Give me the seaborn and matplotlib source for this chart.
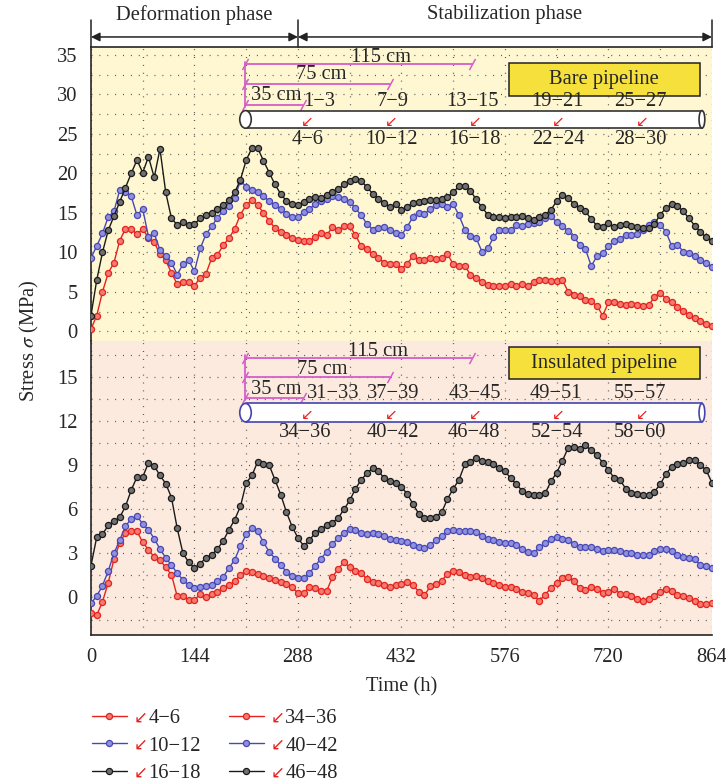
import numpy as np
import matplotlib
matplotlib.use("Agg")
import matplotlib.pyplot as plt
from matplotlib.patches import Rectangle, Ellipse
from matplotlib.ticker import MultipleLocator
import seaborn as sns

# time axis (h), one reading every 8 h
hours = np.arange(0, 865, 8)

# bare pipeline
bare_4_6 = [0.3, 2.0, 5.0, 7.4, 8.7, 11.5, 13.0, 13.0, 12.3, 13.0, 11.8, 11.3,
            9.8, 9.0, 7.4, 6.0, 6.2, 6.3, 5.8, 6.8, 7.3, 9.3, 9.7, 10.9,
            11.8, 13.0, 14.8, 16.0, 16.6, 16.0, 15.0, 14.0, 13.1, 12.6, 12.2, 11.85,
            11.6, 11.4, 11.5, 11.9, 12.4, 12.2, 13.2, 12.9, 13.3, 13.3, 12.2, 10.8,
            10.4, 9.8, 9.3, 8.7, 8.5, 8.5, 7.9, 8.6, 9.5, 9.1, 9.1, 9.3,
            9.2, 9.3, 9.8, 8.5, 8.3, 8.3, 7.2, 6.8, 6.3, 5.9, 5.8, 5.8,
            5.75, 6.0, 5.7, 6.0, 5.8, 6.3, 6.5, 6.5, 6.4, 6.4, 6.5, 5.0,
            4.6, 4.5, 4.0, 3.8, 3.25, 2.0, 3.7, 3.7, 3.5, 3.3, 3.5, 3.3,
            3.25, 3.3, 4.4, 4.9, 4.1, 3.7, 3.1, 2.6, 2.1, 1.7, 1.3, 1.0,
            0.7]
bare_10_12 = [9.3, 10.8, 12.4, 14.5, 15.2, 17.9, 17.7, 17.1, 14.7, 15.5, 12.0, 12.4,
              10.3, 9.6, 8.7, 7.2, 8.5, 9.0, 7.6, 10.5, 12.3, 13.3, 14.4, 15.3,
              15.9, 16.9, 19.1, 18.3, 17.9, 17.6, 17.1, 16.5, 16.0, 15.5, 14.9, 14.5,
              14.5, 15.1, 15.5, 16.1, 16.5, 16.8, 17.1, 17.0, 16.7, 16.4, 15.6, 14.7,
              13.6, 12.9, 13.1, 13.2, 12.8, 12.4, 12.2, 13.25, 14.5, 15.0, 14.9, 15.5,
              16.0, 16.1, 15.8, 16.1, 14.7, 12.9, 12.1, 11.8, 10.1, 10.5, 11.9, 12.8,
              12.8, 12.9, 13.5, 13.3, 13.6, 13.7, 13.9, 14.4, 14.6, 13.8, 13.3, 12.7,
              11.9, 11.0, 10.4, 8.3, 9.5, 9.9, 10.8, 11.4, 11.7, 12.2, 12.2, 12.3,
              12.8, 13.5, 13.9, 13.5, 12.6, 10.8, 11.0, 10.1, 9.9, 9.6, 9.0, 8.7,
              8.2]
bare_16_18 = [2.0, 6.5, 10.0, 12.8, 14.6, 16.4, 18.2, 20.0, 21.7, 20.1, 22.1, 19.5,
              23.1, 17.6, 14.3, 13.5, 13.8, 13.5, 13.6, 14.3, 14.7, 15.0, 15.5, 16.0,
              16.6, 17.6, 19.2, 21.7, 23.2, 23.2, 21.6, 20.1, 18.6, 17.4, 16.5, 16.1,
              16.0, 16.4, 16.7, 17.0, 16.9, 17.3, 17.7, 18.0, 18.6, 19.0, 19.3, 19.0,
              18.3, 17.4, 16.8, 16.3, 15.7, 16.1, 15.4, 15.8, 16.25, 16.4, 16.5, 16.6,
              16.6, 16.7, 17.0, 17.6, 18.4, 18.4, 17.8, 16.7, 15.7, 14.8, 14.5, 14.5,
              14.3, 14.5, 14.5, 14.6, 14.4, 14.1, 14.5, 14.8, 15.4, 16.5, 17.3, 16.9,
              16.1, 15.6, 15.2, 14.2, 13.4, 13.2, 13.7, 13.2, 13.5, 13.6, 13.3, 13.2,
              13.1, 13.05, 13.6, 14.8, 15.6, 16.1, 15.9, 15.2, 14.3, 13.4, 12.6, 11.9,
              11.5]

# insulated pipeline
ins_34_36 = [-1.07, -1.2, -0.3, 1.0, 2.6, 3.7, 4.4, 4.55, 4.5, 3.75, 3.25, 2.75,
             2.55, 2.05, 1.55, 0.07, 0.1, -0.16, -0.16, 0.22, 0.0, 0.27, 0.38, 0.64,
             0.83, 1.1, 1.55, 1.8, 1.7, 1.6, 1.43, 1.3, 1.2, 1.05, 0.9, 0.68,
             0.3, 0.3, 0.7, 0.65, 0.42, 0.45, 1.4, 1.95, 2.4, 2.05, 1.8, 1.66,
             1.25, 1.07, 0.98, 0.86, 0.73, 0.83, 0.95, 1.05, 0.85, 0.4, 0.16, 0.75,
             0.93, 1.15, 1.6, 1.82, 1.7, 1.5, 1.42, 1.47, 1.3, 1.12, 1.0, 0.82,
             0.73, 0.73, 0.55, 0.4, 0.3, 0.15, -0.25, 0.2, 0.65, 1.0, 1.32, 1.4,
             1.12, 0.62, 0.5, 0.68, 0.55, 0.33, 0.39, 0.58, 0.27, 0.25, 0.12, -0.12,
             -0.22, -0.1, 0.12, 0.39, 0.6, 0.45, 0.2, 0.08, -0.03, -0.27, -0.45, -0.45,
             -0.36]
ins_40_42 = [-0.4, 0.1, 0.8, 1.8, 3.0, 3.9, 4.85, 5.35, 5.55, 5.0, 4.6, 4.0,
             3.3, 2.7, 2.2, 1.65, 1.2, 0.85, 0.64, 0.7, 0.78, 0.84, 1.1, 1.4,
             2.0, 2.57, 3.5, 4.3, 4.75, 4.5, 3.75, 3.1, 2.65, 2.2, 1.75, 1.45,
             1.3, 1.3, 1.66, 2.15, 2.65, 3.1, 3.65, 4.05, 4.4, 4.65, 4.6, 4.4,
             4.3, 4.4, 4.3, 4.2, 4.0, 3.9, 3.86, 3.8, 3.6, 3.4, 3.35, 3.57,
             3.9, 4.15, 4.55, 4.6, 4.55, 4.55, 4.55, 4.45, 4.2, 4.0, 3.9, 3.75,
             3.7, 3.7, 3.55, 3.3, 3.1, 3.05, 3.4, 3.7, 3.95, 4.1, 4.0, 3.9,
             3.65, 3.45, 3.45, 3.45, 3.27, 3.18, 3.2, 3.2, 3.15, 3.05, 3.0, 2.9,
             2.9, 2.9, 3.15, 3.27, 3.27, 3.15, 2.9, 2.75, 2.66, 2.6, 2.2, 2.15,
             1.98]
ins_46_48 = [2.16, 4.1, 4.3, 4.9, 5.2, 5.45, 6.2, 7.3, 8.2, 8.2, 9.16, 8.95,
             8.3, 7.75, 6.8, 4.7, 3.0, 2.4, 2.0, 2.3, 2.7, 2.9, 3.3, 3.85,
             4.6, 5.3, 6.2, 7.8, 8.3, 9.25, 9.05, 9.0, 8.0, 7.0, 5.8, 4.8,
             4.05, 3.5, 3.9, 4.4, 4.65, 4.9, 5.1, 5.4, 6.0, 6.6, 7.4, 8.0,
             8.45, 8.8, 8.6, 8.1, 7.95, 7.8, 7.5, 7.05, 6.35, 5.7, 5.4, 5.4,
             5.5, 5.8, 6.7, 7.4, 8.0, 9.05, 9.25, 9.5, 9.3, 9.25, 9.05, 8.8,
             8.6, 8.1, 7.7, 7.25, 7.05, 7.0, 6.95, 7.1, 7.9, 8.5, 9.3, 10.2,
             10.25, 10.1, 10.35, 10.0, 9.7, 9.15, 8.7, 8.1, 8.0, 7.4, 7.1, 7.05,
             7.0, 7.0, 7.2, 7.7, 8.4, 8.9, 9.1, 9.15, 9.35, 9.35, 9.0, 8.65,
             7.8]

legend_labels = ["4\u22126", "10\u221212", "16\u221218", "34\u221236", "40\u221242", "46\u221248"]
bare_above = ["1\u22123", "7\u22129", "13\u221215", "19\u221221", "25\u221227"]
bare_below = ["4\u22126", "10\u221212", "16\u221218", "22\u221224", "28\u221230"]
ins_above = ["31\u221233", "37\u221239", "43\u221245", "49\u221251", "55\u221257"]
ins_below = ["34\u221236", "40\u221242", "46\u221248", "52\u221254", "58\u221260"]
spans = ["35 cm", "75 cm", "115 cm"]

sns.set_style("white")
plt.rcParams['font.family'] = ['Liberation Serif', 'DejaVu Serif']
plt.rcParams['mathtext.fontset'] = 'stix'
FS = 14.8

# (line colour, marker face)
styles = [("#E3231D", "#F37A70"), ("#4848B4", "#9090DE"), ("#1A1A1A", "#707070")]
ARROW_RED = "#E8231E"
MAGENTA = "#D65EC9"

fig = plt.figure(figsize=(7.26, 7.84), dpi=100)
ax1 = fig.add_axes([0.1253, 0.5651, 0.8554, 0.3750])
ax2 = fig.add_axes([0.1253, 0.1901, 0.8554, 0.3750])

handles = []
for ax, series, ylim, major in [(ax1, [bare_4_6, bare_10_12, bare_16_18], (-1.2, 36.0), 5),
                                (ax2, [ins_34_36, ins_40_42, ins_46_48], (-2.55, 17.45), 3)]:
    for vals, (lc, fc) in zip(series, styles):
        sns.lineplot(x=hours, y=vals, ax=ax, color=lc, linewidth=1.0, marker='o',
                     markersize=4.4, markerfacecolor=fc, markeredgecolor=lc,
                     markeredgewidth=0.9, legend=False, errorbar=None, estimator=None,
                     zorder=3)
        handles.append(ax.lines[-1])
    ax.set_xlim(0, 864)
    ax.set_ylim(*ylim)
    ax.xaxis.set_major_locator(MultipleLocator(144))
    ax.xaxis.set_minor_locator(MultipleLocator(72))
    ax.yaxis.set_major_locator(MultipleLocator(major))
    ax.yaxis.set_minor_locator(MultipleLocator(major / 2))
    ax.grid(which='both', color='#555555', linestyle=(0, (0.8, 5.5)), linewidth=0.9)
    ax.set_axisbelow(True)
    ax.spines['right'].set_visible(False)
    ax.spines['left'].set_linewidth(1.2)
    ax.tick_params(axis='y', which='major', direction='out', length=6, width=1.1, labelsize=FS)
    ax.tick_params(axis='y', which='minor', direction='out', length=3.5, width=1.0)
    ax.set_xlabel("")
    ax.set_ylabel("")

ax1.set_facecolor("#FEF7D2")
ax2.set_facecolor("#FCEADF")
ax1.spines['bottom'].set_visible(False)
ax1.spines['top'].set_linewidth(1.2)
ax1.tick_params(axis='x', which='both', bottom=False, labelbottom=False)
ax2.spines['top'].set_visible(False)
ax2.spines['bottom'].set_linewidth(1.2)
ax2.tick_params(axis='x', which='major', direction='out', length=6, width=1.1, labelsize=FS)
ax2.tick_params(axis='x', which='minor', direction='out', length=3.5, width=1.0)
ax1.set_yticks(np.arange(0, 36, 5))
ax2.set_yticks(np.arange(0, 16, 3))


def slash_marker():
    return [(-0.55, -1.0), (0.55, 1.0)]


def draw_panel_notes(ax, ys, above, below, box_text, edge):
    d35, d75, d115, vtop, vbot = ys['dims']
    x0 = 214
    for yv, x1 in [(d35, 295), (d75, 416), (d115, 530)]:
        ax.plot([x0, x1], [yv, yv], color=MAGENTA, lw=1.3, zorder=6)
        ax.plot([x0, x1], [yv, yv], ls='none', marker=slash_marker(), ms=8,
                mec=MAGENTA, mew=1.1, zorder=6)
    ax.plot([x0, x0], [vbot, vtop], color=MAGENTA, lw=1.3, zorder=6)
    for (tx, ty), s in zip(ys['dimtext'], spans):
        ax.text(tx, ty, s, ha='center', va='center', fontsize=FS, zorder=7)
    p0, p1 = ys['pipe']
    ax.add_patch(Rectangle((215, p0), 850 - 215, p1 - p0, facecolor='white',
                           edgecolor='none', zorder=6))
    ax.plot([215, 850], [p0, p0], color=edge, lw=1.2, zorder=6)
    ax.plot([215, 850], [p1, p1], color=edge, lw=1.2, zorder=6)
    ax.add_patch(Ellipse((215, (p0 + p1) / 2), 16, p1 - p0, facecolor='white',
                         edgecolor=edge, lw=1.2, zorder=7))
    ax.add_patch(Ellipse((850, (p0 + p1) / 2), 8, p1 - p0, facecolor='white',
                         edgecolor=edge, lw=1.2, zorder=7))
    for hx in [301, 418, 534, 650, 767]:
        ax.text(hx, ys['arrow'], "\u2199", color=ARROW_RED, fontsize=11,
                family='DejaVu Sans', ha='center', va='center', zorder=8)
    for hx, s in zip(ys['above_x'], above):
        ax.text(hx, ys['above'], s, ha='center', va='center', fontsize=FS, zorder=7)
    for hx, s in zip(ys['below_x'], below):
        ax.text(hx, ys['below'], s, ha='center', va='center', fontsize=FS, zorder=7)
    b0, b1 = ys['box']
    ax.add_patch(Rectangle((581.5, b0), 847 - 581.5, b1 - b0, facecolor='#F6E13C',
                           edgecolor='#222222', lw=1.1, zorder=6))
    ax.text(714, (b0 + b1) / 2, box_text, ha='center', va='center', fontsize=FS, zorder=7)


draw_panel_notes(ax1, dict(dims=(28.7, 31.3, 33.8, 34.1, 28.4),
                           dimtext=[(258, 29.9), (320, 32.5), (404, 34.65)],
                           pipe=(25.72, 27.95), arrow=26.6,
                           above=29.15, above_x=[318, 420, 531, 649, 764],
                           below=24.35, below_x=[301, 418, 533, 650, 765],
                           box=(29.8, 34.0)),
                 bare_above, bare_below, "Bare pipeline", "#333333")
draw_panel_notes(ax2, dict(dims=(13.54, 14.97, 16.26, 16.5, 13.4),
                           dimtext=[(258, 14.15), (322, 15.5), (399, 16.7)],
                           pipe=(11.95, 13.2), arrow=12.45,
                           above=13.9, above_x=[337, 420, 534, 647, 764],
                           below=11.2, below_x=[298, 420, 533, 648, 764],
                           box=(14.83, 17.05)),
                 ins_above, ins_below, "Insulated pipeline", "#4444B0")

# phase brackets above the top panel
tr = ax1.get_xaxis_transform()
for xv in [0, 288, 864]:
    ax1.plot([xv, xv], [1.0, 1.092], color='#222222', lw=1.1, transform=tr, clip_on=False)
for a, b in [(0, 288), (288, 864)]:
    ax1.annotate('', xy=(b, 1.034), xytext=(a, 1.034), xycoords=tr, textcoords=tr,
                 arrowprops=dict(arrowstyle='<|-|>', color='#222222', lw=1.1,
                                 mutation_scale=13, shrinkA=0, shrinkB=0),
                 annotation_clip=False)
ax1.text(144, 1.11, "Deformation phase", transform=tr, ha='center', va='center', fontsize=FS)
ax1.text(576, 1.11, "Stabilization phase", transform=tr, ha='center', va='center', fontsize=FS)

fig.text(0.041, 0.5651, "Stress $\\sigma$ (MPa)", rotation=90, ha='center', va='center', fontsize=FS)
fig.text(0.553, 1 - 687 / 784, "Time (h)", ha='center', va='center', fontsize=FS)

leg = fig.legend(handles, legend_labels, loc='upper left', bbox_to_anchor=(0.1267, 1 - 709 / 784),
                 ncol=2, frameon=False, numpoints=1, handlelength=1.7, handletextpad=1.05,
                 columnspacing=1.35, labelspacing=0.38, borderpad=0, borderaxespad=0,
                 fontsize=FS)

fig.canvas.draw()
renderer = fig.canvas.get_renderer()
inv = fig.transFigure.inverted()
for txt in leg.get_texts():
    bb = txt.get_window_extent(renderer)
    fx, fy = inv.transform((bb.x0 - 1, (bb.y0 + bb.y1) / 2 + 1))
    fig.text(fx, fy, "\u2199", color=ARROW_RED, fontsize=12, family='DejaVu Sans',
             ha='right', va='center')

fig.savefig("out.png", dpi=100)
